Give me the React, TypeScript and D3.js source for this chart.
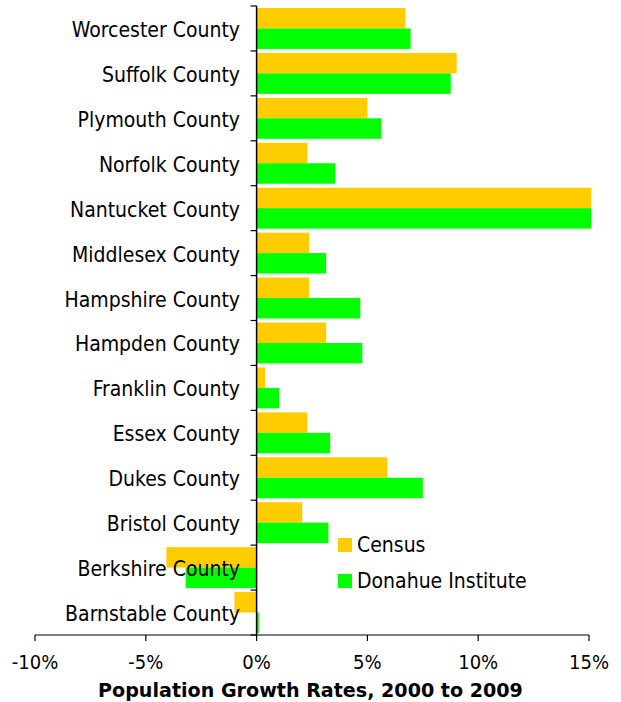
import React from "react";
import * as d3 from "d3";

// Counties, listed top to bottom
const counties = [
  "Worcester County",
  "Suffolk County",
  "Plymouth County",
  "Norfolk County",
  "Nantucket County",
  "Middlesex County",
  "Hampshire County",
  "Hampden County",
  "Franklin County",
  "Essex County",
  "Dukes County",
  "Bristol County",
  "Berkshire County",
  "Barnstable County",
];

// Growth rates 2000–2009, in percent
const census = [6.72, 9.03, 5.0, 2.29, 15.1, 2.37, 2.37, 3.14, 0.38, 2.29, 5.9, 2.06, -4.07, -1.0];
const donahue = [6.95, 8.76, 5.63, 3.55, 15.1, 3.14, 4.68, 4.77, 1.02, 3.32, 7.5, 3.24, -3.2, 0.1];

const seriesNames = ["Census", "Donahue Institute"];
const seriesColors = ["#FFCC00", "#00FF00"];
const xTicks = [-10, -5, 0, 5, 10, 15];
const axisTitle = "Population Growth Rates, 2000 to 2009";

const W = 621;
const H = 702;
const FONT = "'DejaVu Sans Condensed', 'DejaVu Sans', Tahoma, sans-serif";
const TITLE_FONT = "'DejaVu Sans', Verdana, sans-serif";

export default function App() {
  const x = d3.scaleLinear().domain([-10, 15]).range([35, 589]);
  const y = d3.scaleBand<string>().domain(counties).range([6, 635]).padding(0);
  const sub = d3
    .scaleBand<string>()
    .domain(seriesNames)
    .range([2, y.bandwidth() - 2])
    .padding(0);

  const seriesData = [census, donahue];
  const axisY = 635;
  const zeroX = x(0);

  return (
    <svg
      width={W}
      height={H}
      style={{ position: "absolute", left: 0, top: 0, background: "#fff" }}
      fontFamily={FONT}
    >
      {/* bars */}
      {counties.map((c, i) => (
        <g key={c} transform={`translate(0,${y(c)})`}>
          {seriesNames.map((s, k) => {
            const v = seriesData[k][i];
            return (
              <rect
                key={s}
                x={Math.min(x(v), zeroX)}
                y={sub(s)}
                width={Math.abs(x(v) - zeroX)}
                height={sub.bandwidth()}
                fill={seriesColors[k]}
              />
            );
          })}
        </g>
      ))}

      {/* vertical category axis at zero */}
      <line x1={zeroX} x2={zeroX} y1={6} y2={axisY} stroke="#000" strokeWidth={1.5} />
      {d3.range(counties.length + 1).map((i) => {
        const yy = 6 + i * y.step();
        return (
          <line key={i} x1={zeroX - 6} x2={zeroX} y1={yy} y2={yy} stroke="#000" strokeWidth={1.2} />
        );
      })}

      {/* category labels */}
      {counties.map((c) => (
        <text
          key={c}
          x={240}
          y={(y(c) ?? 0) + y.bandwidth() / 2 + 1.5}
          textAnchor="end"
          dominantBaseline="central"
          fontSize={21}
          fill="#000"
        >
          {c}
        </text>
      ))}

      {/* value axis */}
      <line x1={x(-10)} x2={x(15)} y1={axisY} y2={axisY} stroke="#000" strokeWidth={1.2} />
      {xTicks.map((t) => (
        <g key={t}>
          <line x1={x(t)} x2={x(t)} y1={axisY} y2={axisY + 6} stroke="#000" strokeWidth={1.2} />
          <text
            x={x(t)}
            y={axisY + 27}
            textAnchor="middle"
            dominantBaseline="central"
            fontSize={20}
            fill="#000"
          >
            {t}%
          </text>
        </g>
      ))}
      <text
        x={310.5}
        y={690}
        textAnchor="middle"
        dominantBaseline="central"
        fontSize={19.1}
        fontWeight="bold"
        fontFamily={TITLE_FONT}
        fill="#000"
      >
        {axisTitle}
      </text>

      {/* legend */}
      {seriesNames.map((s, k) => (
        <g key={s} transform={`translate(338,${538 + k * 36})`}>
          <rect x={0} y={0} width={14} height={14} fill={seriesColors[k]} />
          <text x={19} y={7} dominantBaseline="central" fontSize={21} fill="#000">
            {s}
          </text>
        </g>
      ))}
    </svg>
  );
}
